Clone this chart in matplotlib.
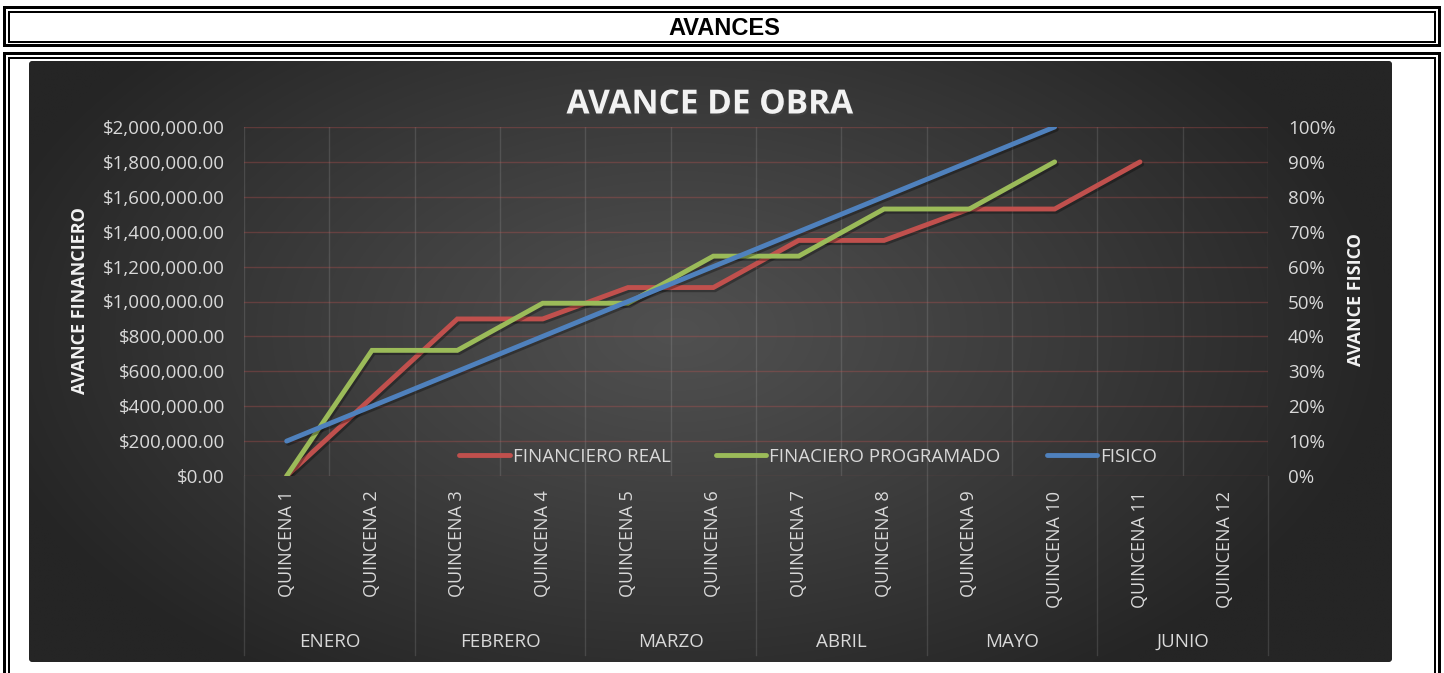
import numpy as np
import matplotlib
matplotlib.use("Agg")
import matplotlib.pyplot as plt
from matplotlib.patches import Rectangle, FancyBboxPatch
from matplotlib.ticker import FuncFormatter
from matplotlib.lines import Line2D
import matplotlib.patheffects as pe

# ---------------- data ----------------
categories = ["QUINCENA 1", "QUINCENA 2", "QUINCENA 3", "QUINCENA 4",
              "QUINCENA 5", "QUINCENA 6", "QUINCENA 7", "QUINCENA 8",
              "QUINCENA 9", "QUINCENA 10", "QUINCENA 11", "QUINCENA 12"]
months = ["ENERO", "FEBRERO", "MARZO", "ABRIL", "MAYO", "JUNIO"]
financiero_real = [0, 450000, 900000, 900000, 1080000, 1080000, 1350000,
                   1350000, 1530000, 1530000, 1800000, np.nan]
financiero_programado = [0, 720000, 720000, 990000, 990000, 1260000, 1260000,
                         1530000, 1530000, 1800000, np.nan, np.nan]
fisico = [0.10, 0.20, 0.30, 0.40, 0.50, 0.60, 0.70, 0.80, 0.90, 1.00,
          np.nan, np.nan]
left_ticks = [0, 200000, 400000, 600000, 800000, 1000000, 1200000, 1400000,
              1600000, 1800000, 2000000]
right_ticks = [0, 0.1, 0.2, 0.3, 0.4, 0.5, 0.6, 0.7, 0.8, 0.9, 1.0]
series_names = ["FINANCIERO REAL", "FINACIERO PROGRAMADO", "FISICO"]

FONT = "Open Sans"
TXT = "#d9d9d9"
RED, GREEN, BLUE = "#c0504d", "#9bbb59", "#4f81bd"
FS = 13.5

W, H = 1444, 673
fig = plt.figure(figsize=(W / 100, H / 100), dpi=100)
fig.patch.set_facecolor("white")

# ---------------- background / frames (pixel coords) ----------------
bg = fig.add_axes([0, 0, 1, 1], zorder=-10)
bg.axis("off")


def rect(x0, y0, x1, y1, color):
    bg.add_patch(Rectangle((x0, y0), x1 - x0, y1 - y0, facecolor=color,
                           edgecolor="none", linewidth=0))


for (x0, y0, x1, y1) in [(3, 6, 1441, 47), (3, 52, 1441, 700)]:
    rect(x0, y0, x1, y1, "black")
    rect(x0 + 3, y0 + 3, x1 - 3, y1 - 3, "white")
    rect(x0 + 5, y0 + 5, x1 - 5, y1 - 4.5, "black")
    rect(x0 + 7, y0 + 7, x1 - 7, y1 - 6.5, "white")

cx0, cy0, cx1, cy1 = 29, 61, 1392, 662
chart_patch = FancyBboxPatch((cx0, cy0), cx1 - cx0, cy1 - cy0,
                             boxstyle="round,pad=0,rounding_size=4",
                             facecolor="#262626", edgecolor="none")
bg.add_patch(chart_patch)
nx, ny = 400, 180
xs = np.linspace(-1, 1, nx)
ys = np.linspace(-1, 1, ny)
X, Y = np.meshgrid(xs, ys)
R = np.sqrt(((X + 0.05) * 1.0) ** 2 + ((Y + 0.1) * 0.75) ** 2)
t = np.clip(R / 1.05, 0, 1) ** 1.1
c0 = np.array([0x50, 0x50, 0x50]) / 255
c1 = np.array([0x25, 0x25, 0x25]) / 255
img = c0[None, None, :] * (1 - t[..., None]) + c1[None, None, :] * t[..., None]
im = bg.imshow(img, extent=(cx0, cx1, cy1, cy0), origin="upper",
               interpolation="bilinear", zorder=2)
im.set_clip_path(chart_patch)
bg.set_aspect("auto")
bg.set_xlim(0, W)
bg.set_ylim(H, 0)

fig.text(724 / W, 1 - 35 / H, "AVANCES", ha="center", va="baseline",
         fontsize=17, fontweight="bold", family="Liberation Sans",
         color="black")

# ---------------- plot axes ----------------
L, Rr, T, B = 244, 1268, 127, 476
ax = fig.add_axes([L / W, (H - B) / H, (Rr - L) / W, (B - T) / H])
ax.patch.set_alpha(0)
x = np.arange(len(categories))
ax.set_xlim(-0.5, len(categories) - 0.5)
ax.set_ylim(0, 2000000)
for s in ax.spines.values():
    s.set_visible(False)

# gridlines
for yv in left_ticks:
    ax.axhline(yv, color=(0.80, 0.33, 0.32, 0.30), lw=1.0, zorder=0.5)
for xv in np.arange(-0.5, len(categories), 1.0):
    ax.axvline(xv, color=(0.85, 0.85, 0.85, 0.15), lw=1.0, zorder=0.4)

shadow = [pe.SimpleLineShadow(offset=(1.2, -1.6), shadow_color="black",
                              alpha=0.3), pe.Normal()]
lw = 3.5
ax.plot(x, financiero_real, color=RED, lw=lw, solid_capstyle="round",
        solid_joinstyle="miter", path_effects=shadow, zorder=3)
ax.plot(x, financiero_programado, color=GREEN, lw=lw, solid_capstyle="round",
        solid_joinstyle="miter", path_effects=shadow, zorder=4)

ax.set_yticks(left_ticks)
ax.yaxis.set_major_formatter(FuncFormatter(lambda v, p: f"${v:,.2f}"))
ax.tick_params(axis="y", length=0, pad=13.7, labelsize=FS, labelcolor=TXT)
ax.set_xticks(x)
ax.set_xticklabels(categories, rotation=90)
ax.tick_params(axis="x", length=0, pad=10.5, labelsize=13, labelcolor=TXT)
for lab in ax.get_xticklabels() + ax.get_yticklabels():
    lab.set_family(FONT)

# month labels and separators
for i, m in enumerate(months):
    ax.text(2 * i + 0.5, (B - 642) / (B - T), m, transform=ax.get_xaxis_transform(),
            ha="center", va="center", fontsize=FS, color=TXT, family=FONT)
for xv in np.arange(-0.5, len(categories), 2.0):
    ax.plot([xv, xv], [0, -(655 - B) / (B - T)], transform=ax.get_xaxis_transform(),
            color=(0.85, 0.85, 0.85, 0.15), lw=1.0, clip_on=False)

ax2 = ax.twinx()
ax2.patch.set_alpha(0)
for s in ax2.spines.values():
    s.set_visible(False)
ax2.set_ylim(0, 1)
ax2.plot(x, fisico, color=BLUE, lw=lw, solid_capstyle="round",
         solid_joinstyle="miter", path_effects=shadow, zorder=5)
ax2.set_yticks(right_ticks)
ax2.yaxis.set_major_formatter(FuncFormatter(lambda v, p: f"{v * 100:.0f}%"))
ax2.tick_params(axis="y", length=0, pad=14.4, labelsize=FS, labelcolor=TXT)
for lab in ax2.get_yticklabels():
    lab.set_family(FONT)

handles = [Line2D([], [], color=c, lw=lw, solid_capstyle="round")
           for c in (RED, GREEN, BLUE)]
leg = ax2.legend(handles, series_names, loc="center", ncol=3,
                 bbox_to_anchor=((808 - L) / (Rr - L), (B - 457) / (B - T)),
                 frameon=False, handlelength=2.67, handletextpad=0.16,
                 columnspacing=2.45, prop={"family": FONT, "size": FS})
for tx in leg.get_texts():
    tx.set_color(TXT)

# titles
fig.text(710 / W, 1 - 113.5 / H, "AVANCE DE OBRA", ha="center", va="baseline",
         fontsize=24, fontweight="bold", family=FONT, color="#f2f2f2",
         path_effects=[pe.withSimplePatchShadow(offset=(1, -1.5), alpha=0.5)])
fig.text(80 / W, 1 - 301 / H, "AVANCE FINANCIERO", rotation=90, ha="center",
         va="center", fontsize=13, fontweight="bold", family=FONT,
         color="#f2f2f2")
fig.text(1356 / W, 1 - 300 / H, "AVANCE FISICO", rotation=90, ha="center",
         va="center", fontsize=13, fontweight="bold", family=FONT,
         color="#f2f2f2")

fig.savefig("out.png", dpi=100)
